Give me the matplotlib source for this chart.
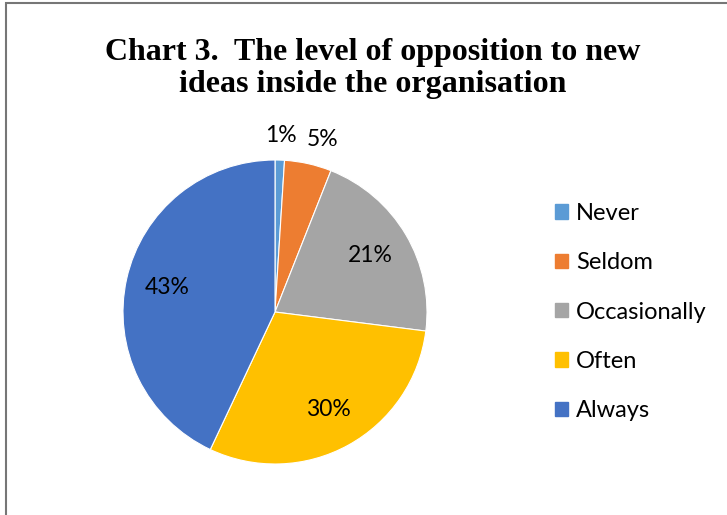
import numpy as np
import matplotlib.pyplot as plt
from matplotlib.patches import Rectangle

categories = ['Never', 'Seldom', 'Occasionally', 'Often', 'Always']
shares = [1, 5, 21, 30, 43]
colors = ['#5B9BD5', '#ED7D31', '#A5A5A5', '#FFC000', '#4472C4']

label_font = 'Lato'

fig = plt.figure(figsize=(7.27, 5.15), dpi=100)

# chart frame (runs off the right and bottom edges)
fig.patches.append(Rectangle((6 / 727, -0.05), 1.0, 1 - 3 / 515 + 0.05,
                             transform=fig.transFigure, fill=False,
                             edgecolor='#767676', linewidth=1.5))

fig.text(0.513, 0.867, 'Chart 3.  The level of opposition to new\nideas inside the organisation',
         ha='center', va='center', fontsize=23, fontweight='bold',
         family='Liberation Serif', linespacing=1.1)

r_px = 152
cx, cy = 275, 312
ax = fig.add_axes([(cx - r_px) / 727, 1 - (cy + r_px) / 515, 2 * r_px / 727, 2 * r_px / 515])

wedges, texts, autotexts = ax.pie(shares, colors=colors, startangle=90, counterclock=False,
                                  autopct='%1.0f%%', pctdistance=0.73,
                                  wedgeprops={'edgecolor': 'white', 'linewidth': 0.8},
                                  textprops={'fontsize': 16.5, 'family': label_font, 'color': 'black'})
ax.set_xlim(-1, 1)
ax.set_ylim(-1, 1)
ax.set_aspect('equal')

# small slices get their labels outside the pie, spread a little apart
for w, t, v in zip(wedges, autotexts, shares):
    if v < 10:
        ang = np.deg2rad((w.theta1 + w.theta2) / 2)
        x, y = 1.16 * np.cos(ang), 1.16 * np.sin(ang)
        if v > 2:
            x += 0.06
        t.set_position((x, y))

handles = [Rectangle((0, 0), 1, 1, color=c) for c in colors]
fig.legend(handles, categories, loc='center left', bbox_to_anchor=(0.734, 0.394),
           frameon=False, prop={'family': label_font, 'size': 17},
           handlelength=0.55, handleheight=0.55, handletextpad=0.35, labelspacing=1.2)

fig.savefig('out.png', dpi=100)
